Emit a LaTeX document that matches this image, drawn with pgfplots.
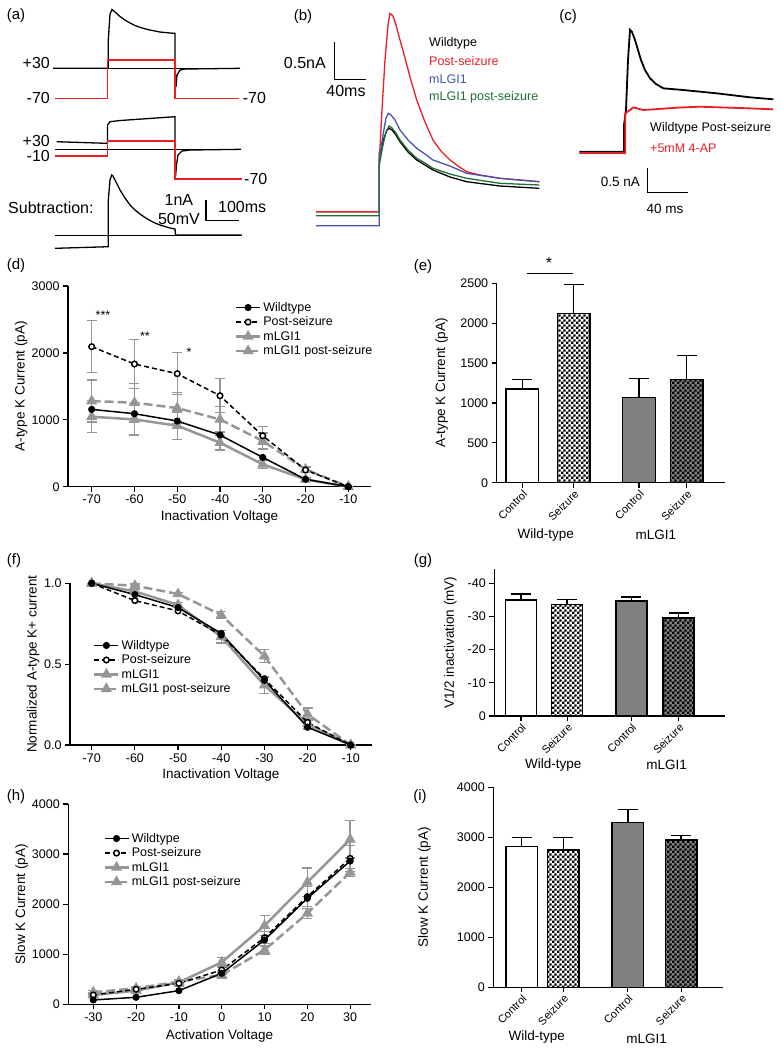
\documentclass[border=0pt]{standalone}
\usepackage{pgfplots}
\pgfplotsset{compat=1.18}
\usepackage{fontspec}
\setmainfont{Liberation Sans}
\usetikzlibrary{patterns}

\pgfdeclarepatternformonly{fchk}{\pgfqpoint{0pt}{0pt}}{\pgfqpoint{4.8pt}{4.8pt}}{\pgfqpoint{4.8pt}{4.8pt}}{%
  \pgfpathrectangle{\pgfqpoint{0pt}{0pt}}{\pgfqpoint{2.4pt}{2.4pt}}%
  \pgfpathrectangle{\pgfqpoint{2.4pt}{2.4pt}}{\pgfqpoint{2.4pt}{2.4pt}}%
  \pgfusepath{fill}}

\definecolor{rd}{RGB}{235,30,35}
\definecolor{bl}{RGB}{65,85,175}
\definecolor{gn}{RGB}{30,110,55}
\definecolor{gr}{RGB}{150,150,150}
\definecolor{bargr}{RGB}{128,128,128}

\newcommand{\fa}{\fontsize{16}{19}\selectfont}
\newcommand{\fl}{\fontsize{12.5}{15}\selectfont}
\newcommand{\fx}{\fontsize{13.5}{16}\selectfont}
\newcommand{\fp}{\fontsize{15}{18}\selectfont}
\newcommand{\fr}{\fontsize{11}{13}\selectfont}

\pgfplotsset{
 myax/.style={scale only axis, axis lines=left, axis line style={-, line width=1.3pt},
   tick align=outside, major tick length=5pt, tick style={line width=1.2pt, black},
   ticklabel style={font=\fl}, /pgf/number format/assume math mode=true,
   /pgf/number format/1000 sep={}, label style={font=\fx}, clip=false},
 leg/.style={legend cell align=left,
   legend style={draw=none, fill=none, anchor=north west, font=\fl, inner sep=0pt, row sep=0pt},
   legend image code/.code={\draw[mark repeat=2, mark phase=2, ##1] plot coordinates {(0pt,0pt) (12pt,0pt) (24pt,0pt)};}},
 barax/.style={myax, xmin=0, x tick label style={rotate=45, anchor=north east, font=\fr, inner sep=1pt}},
 wt/.style={black, line width=1.5pt, mark=*, mark size=2.8pt},
 ps/.style={black, line width=1.5pt, dash pattern=on 5pt off 3pt, mark=*, mark size=2.8pt, mark options={solid, fill=white}},
 ml/.style={gr, line width=2.5pt, mark=triangle*, mark size=4pt},
 mp/.style={gr, line width=2.5pt, dash pattern=on 9pt off 4pt, mark=triangle*, mark size=4pt, mark options={solid}},
 eb/.style={error bars/.cd, y dir=both, y explicit, error mark=|, error bar style={solid, line width=1.4pt, gr}, error mark options={solid, line width=1.4pt, mark size=5pt, gr}},
 beb/.style={error bars/.cd, y dir=plus, y explicit, error mark=|, error bar style={line width=1.5pt, black}, error mark options={line width=1.5pt, mark size=10pt, black}},
 chk/.style={draw=black, line width=1.5pt, preaction={fill=#1}, pattern=fchk, pattern color=black},
}

\begin{document}
\begin{tikzpicture}
\path[use as bounding box] (0,0) rectangle (780pt,-1050pt);

% ---------- background axis in pixel coordinates (traces, texts) ----------
\begin{axis}[at={(0pt,0pt)}, anchor=north west, scale only axis, width=780pt, height=1050pt,
  xmin=0, xmax=780, ymin=0, ymax=1050, y dir=reverse, hide axis, clip=false]
% panel (a)
\addplot[black, line width=0.8pt] coordinates {(53,68.3) (240,68.3)};
\addplot[black, line width=1.3pt] coordinates {(53,68.3) (108.3,68.3) (108.3,40) (110,14) (112,9.5) (115,12) (120,16.5) (125,20) (130,23) (135,25.5) (140,27.3) (145,28.8) (150,30) (155,31) (160,32) (165,32.5) (170,33) (175,33.3) (175,68.3) (176,87) (177,75) (180,70) (185,69) (240,68.3)};
\addplot[rd, line width=1.2pt] coordinates {(55,98.3) (107.5,98.3) (107.5,60) (175,60) (175,98.3) (239.3,98.3)};
\addplot[black, line width=0.8pt] coordinates {(55,149) (241,149)};
\addplot[black, line width=1.3pt] coordinates {(56.7,141.7) (106.7,143.3) (107.5,143.3) (107.5,125) (110,121.7) (120,120.5) (175,116.7) (175,140) (175.5,176.7) (176.5,165) (178,155) (182,151) (190,150) (241,149.3)};
\addplot[rd, line width=1.2pt] coordinates {(55,156) (107.3,156) (107.3,141) (175,141) (175,179) (241.7,179)};
\addplot[black, line width=0.8pt] coordinates {(55,235) (241.7,235)};
\addplot[black, line width=1.3pt] coordinates {(55,248.3) (108.3,246.7) (108.3,200) (110,180) (111.7,175) (113,176) (115,180) (120,190) (125,198) (130,205) (135,210) (140,214) (145,217.5) (150,220.5) (155,223) (160,225) (165,226.5) (170,228) (175,229) (175.5,235) (241.7,235)};
\addplot[black, line width=1.2pt] coordinates {(206,200) (206,220.7) (239.3,220.7)};
\node[anchor=east, inner sep=0, font=\fa] at (axis cs:50,62.7) {+30};
\node[anchor=east, inner sep=0, font=\fa] at (axis cs:50,97.7) {-70};
\node[anchor=west, inner sep=0, font=\fa] at (axis cs:242.7,97.7) {-70};
\node[anchor=east, inner sep=0, font=\fa] at (axis cs:50,140.7) {+30};
\node[anchor=east, inner sep=0, font=\fa] at (axis cs:50,156) {-10};
\node[anchor=west, inner sep=0, font=\fa] at (axis cs:244,179) {-70};
\node[anchor=west, inner sep=0, font=\fa] at (axis cs:8,207.3) {Subtraction:};
\node[anchor=east, inner sep=0, font=\fa] at (axis cs:193.3,200) {1nA};
\node[anchor=east, inner sep=0, font=\fa] at (axis cs:200,218.7) {50mV};
\node[anchor=west, inner sep=0, font=\fa] at (axis cs:218,207.3) {100ms};
% panel (b)
\addplot[black, line width=1.3pt] coordinates {(316,211.7) (379.3,211.7) (379.3,153) (381,150) (384,138) (387,130) (389,128.3) (392,130) (396,135) (400,141.7) (408,152) (416.7,160) (425,165) (433,170) (450,177) (466.7,181.7) (500,186) (539.3,188.3)};
\addplot[rd, line width=1.3pt] coordinates {(316,211.7) (379.3,211.7) (379.3,160) (382,110) (385,60) (388,25) (390,13.3) (393,16) (396,25) (400,40) (405,58) (410,77) (416.7,100) (425,122) (433,140) (441,151) (450,160) (458,166) (466.7,171.7) (480,175) (500,178.3) (520,180) (539.3,181.7)};
\addplot[bl, line width=1.3pt] coordinates {(316,225.7) (379.3,225.7) (379.3,160) (383,135) (386,118) (388.3,113.3) (391,115) (395,120) (400,130) (408,140) (416.7,148.3) (425,154) (433,160) (450,166) (466.7,173.3) (500,178.3) (539.3,181.7)};
\addplot[gn, line width=1.3pt] coordinates {(316,215.7) (379.3,215.7) (379.3,165) (383,145) (386,132) (389,126) (392,128) (396,133) (400,140) (408,150) (416.7,158.3) (425,163) (433,168.3) (450,174) (466.7,178.3) (500,183.3) (539.3,185)};
\addplot[black, line width=1.2pt] coordinates {(334.3,41.7) (334.3,79.3) (365.7,79.3)};
\node[anchor=east, inner sep=0, font=\fa] at (axis cs:326,63.3) {0.5nA};
\node[inner sep=0, font=\fa] at (axis cs:346,90.7) {40ms};
\node[anchor=west, inner sep=0, font=\fl] at (axis cs:429,43.3) {Wildtype};
\node[anchor=west, inner sep=0, font=\fl, text=rd] at (axis cs:429,61.3) {Post-seizure};
\node[anchor=west, inner sep=0, font=\fl, text=bl] at (axis cs:429,78.7) {mLGI1};
\node[anchor=west, inner sep=0, font=\fl, text=gn] at (axis cs:429,97.3) {mLGI1 post-seizure};
% panel (c)
\addplot[black, line width=1.8pt] coordinates {(579.3,151.7) (624,151.7) (624,125) (626,110) (628,60) (630,30) (632,32) (635,40) (638,50) (641,60) (645,70) (650,78.3) (656,84) (663.3,88.3) (683.3,90) (716.7,93.3) (750,97.3) (773.3,99.3)};
\addplot[rd, line width=1.8pt] coordinates {(579.3,153.3) (625.3,153.3) (625.3,113.3) (630,110) (633.3,107.3) (643.3,110) (680,107.5) (700,106.7) (740,108) (773.3,109.3)};
\addplot[black, line width=1.2pt] coordinates {(647.3,168.3) (647.3,192.7) (688.3,192.7)};
\node[anchor=west, inner sep=0, font=\fl] at (axis cs:650,128.3) {Wildtype Post-seizure};
\node[anchor=west, inner sep=0, font=\fl, text=rd] at (axis cs:650,148.3) {+5mM 4-AP};
\node[anchor=east, inner sep=0, font=\fx] at (axis cs:640,181.7) {0.5 nA};
\node[inner sep=0, font=\fx] at (axis cs:665,209.3) {40 ms};
% panel labels
\node[inner sep=0, font=\fp] at (axis cs:16,16) {(a)};
\node[inner sep=0, font=\fp] at (axis cs:303,17) {(b)};
\node[inner sep=0, font=\fp] at (axis cs:568,17) {(c)};
\node[inner sep=0, font=\fp] at (axis cs:16,266) {(d)};
\node[inner sep=0, font=\fp] at (axis cs:423,267) {(e)};
\node[inner sep=0, font=\fp] at (axis cs:14,561) {(f)};
\node[inner sep=0, font=\fp] at (axis cs:423,561) {(g)};
\node[inner sep=0, font=\fp] at (axis cs:16,797) {(h)};
\node[inner sep=0, font=\fp] at (axis cs:420,797) {(i)};
% stars
\node[inner sep=0, font=\fl] at (axis cs:103,315) {***};
\node[inner sep=0, font=\fl] at (axis cs:145,336) {**};
\node[inner sep=0, font=\fl] at (axis cs:189,352) {*};
\addplot[black, line width=1.3pt] coordinates {(526.7,273.3) (573.3,273.3)};
\node[inner sep=0, font=\fa] at (axis cs:549,263) {*};
% group labels
\node[inner sep=0, font=\fx] at (axis cs:545.8,535) {Wild-type};
\node[inner sep=0, font=\fx] at (axis cs:655.8,535) {mLGI1};
\node[inner sep=0, font=\fx] at (axis cs:553.3,765) {Wild-type};
\node[inner sep=0, font=\fx] at (axis cs:666.7,765) {mLGI1};
\node[inner sep=0, font=\fx] at (axis cs:536.7,1037.3) {Wild-type};
\node[inner sep=0, font=\fx] at (axis cs:646.7,1039.3) {mLGI1};
\end{axis}

% ---------- (d) ----------
\begin{axis}[myax, leg, reverse legend, at={(68pt,-486.7pt)}, anchor=south west, width=303pt, height=200.7pt,
  xmin=-75.54, xmax=-4.69, ymin=0, ymax=3000, xtick={-70,-60,...,-10}, ytick={0,1000,2000,3000},
  xlabel={Inactivation Voltage}, ylabel={A-type K Current (pA)},
  ylabel style={at={(axis description cs:-0.155,0.5)}, anchor=center},
  xlabel style={at={(axis description cs:0.5,0)}, anchor=center, yshift=-30pt},
  legend style={at={(0.55,0.93)}}]
\addplot[mp, eb] coordinates {(-70,1281) +- (0,313) (-60,1256) +- (0,290) (-50,1176) +- (0,230) (-40,1006) +- (0,190) (-30,683) +- (0,120) (-20,259) +- (0,40) (-10,0) +- (0,0)};
\addlegendentry{mLGI1 post-seizure}
\addplot[ml, eb] coordinates {(-70,1046) +- (0,240) (-60,1006) +- (0,234) (-50,912) +- (0,204) (-40,658) +- (0,110) (-30,334) +- (0,60) (-20,110) +- (0,20) (-10,0) +- (0,0)};
\addlegendentry{mLGI1}
\addplot[ps, eb] coordinates {(-70,2093) +- (0,390) (-60,1834) +- (0,368) (-50,1689) +- (0,314) (-40,1360) +- (0,254) (-30,762) +- (0,135) (-20,250) +- (0,40) (-10,0) +- (0,0)};
\addlegendentry{Post-seizure}
\addplot[wt] coordinates {(-70,1156) (-60,1091) (-50,982) (-40,772) (-30,438) (-20,110) (-10,0)};
\addlegendentry{Wildtype}
\end{axis}

% ---------- (e) ----------
\begin{axis}[barax, at={(496.7pt,-482.7pt)}, anchor=south west, width=228.3pt, height=199.4pt,
  xmax=228.3, ymin=0, ymax=2500, ytick={0,500,...,2500},
  xtick={25.6,77,142.3,190}, xticklabels={Control,Seizure,Control,Seizure},
  ylabel={A-type K Current (pA)},
  ylabel style={at={(axis description cs:-0.241,0.5)}, anchor=center}]
\addplot[ybar, bar width=32.7pt, bar shift=0pt, draw=black, line width=1.5pt, fill=white, beb] coordinates {(25.6,1175) +- (0,121)};
\addplot[ybar, bar width=32.7pt, bar shift=0pt, chk=white, beb] coordinates {(77,2124) +- (0,364)};
\addplot[ybar, bar width=32.7pt, bar shift=0pt, draw=black, line width=1.5pt, fill=bargr, beb] coordinates {(142.3,1070) +- (0,234)};
\addplot[ybar, bar width=32.7pt, bar shift=0pt, chk=bargr, beb] coordinates {(190,1296) +- (0,297)};
\end{axis}

% ---------- (f) ----------
\begin{axis}[myax, leg, reverse legend, at={(70pt,-745pt)}, anchor=south west, width=301.7pt, height=161.7pt,
  xmin=-75.03, xmax=-5.14, ymin=0, ymax=1, xtick={-70,-60,...,-10}, ytick={0,0.5,1}, yticklabels={0.0,0.5,1.0},
  xlabel={Inactivation Voltage}, ylabel={Normalized A-type K+ current},
  ylabel style={at={(axis description cs:-0.1226,0.5)}, anchor=center},
  xlabel style={at={(axis description cs:0.5,0)}, anchor=center, yshift=-30pt},
  legend style={at={(0.076,0.662)}}]
\addplot[mp, eb] coordinates {(-70,1) +- (0,0) (-60,0.985) +- (0,0.01) (-50,0.934) +- (0,0.01) (-40,0.804) +- (0,0.02) (-30,0.55) +- (0,0.04) (-20,0.19) +- (0,0.04) (-10,0) +- (0,0)};
\addlegendentry{mLGI1 post-seizure}
\addplot[ml, eb] coordinates {(-70,1) +- (0,0) (-60,0.95) +- (0,0.01) (-50,0.866) +- (0,0.015) (-40,0.67) +- (0,0.04) (-30,0.37) +- (0,0.05) (-20,0.13) +- (0,0.03) (-10,0) +- (0,0)};
\addlegendentry{mLGI1}
\addplot[ps] coordinates {(-70,1) (-60,0.893) (-50,0.829) (-40,0.68) (-30,0.41) (-20,0.14) (-10,0)};
\addlegendentry{Post-seizure}
\addplot[wt] coordinates {(-70,1) (-60,0.93) (-50,0.85) (-40,0.69) (-30,0.40) (-20,0.11) (-10,0)};
\addlegendentry{Wildtype}
\end{axis}

% ---------- (g) ----------
\begin{axis}[barax, at={(494.3pt,-716pt)}, anchor=south west, width=230.7pt, height=146.7pt,
  xmax=230.7, ymin=0, ymax=44.2, ytick={0,10,20,30,40}, yticklabels={0,-10,-20,-30,-40},
  xtick={26.7,72.9,137,184.4}, xticklabels={Control,Seizure,Control,Seizure},
  ylabel={V1/2 inactivation (mV)},
  ylabel style={at={(axis description cs:-0.1907,0.5)}, anchor=center}]
\addplot[ybar, bar width=31pt, bar shift=0pt, draw=black, line width=1.5pt, fill=white, beb] coordinates {(26.7,34.9) +- (0,1.8)};
\addplot[ybar, bar width=31pt, bar shift=0pt, chk=white, beb] coordinates {(72.9,33.6) +- (0,1.5)};
\addplot[ybar, bar width=31pt, bar shift=0pt, draw=black, line width=1.5pt, fill=bargr, beb] coordinates {(137,34.7) +- (0,1.2)};
\addplot[ybar, bar width=31pt, bar shift=0pt, chk=bargr, beb] coordinates {(184.4,29.6) +- (0,1.4)};
\end{axis}

% ---------- (h) ----------
\begin{axis}[myax, leg, reverse legend, at={(68.3pt,-1004.3pt)}, anchor=south west, width=302.4pt, height=200.3pt,
  xmin=-35.84, xmax=34.8, ymin=0, ymax=4000, xtick={-30,-20,...,30}, ytick={0,1000,...,4000},
  xlabel={Activation Voltage}, ylabel={Slow K Current (pA)},
  ylabel style={at={(axis description cs:-0.1541,0.5)}, anchor=center},
  xlabel style={at={(axis description cs:0.5,0)}, anchor=center, yshift=-32pt},
  legend style={at={(0.115,0.865)}}]
\addplot[mp, eb] coordinates {(-30,240) +- (0,30) (-20,320) +- (0,30) (-10,453) +- (0,40) (0,586) +- (0,60) (10,1085) +- (0,80) (20,1817) +- (0,100) (30,2636) +- (0,80)};
\addlegendentry{mLGI1 post-seizure}
\addplot[ml, eb] coordinates {(-30,186) +- (0,40) (-20,273) +- (0,40) (-10,439) +- (0,50) (0,839) +- (0,93) (10,1571) +- (0,200) (20,2436) +- (0,286) (30,3295) +- (0,372)};
\addlegendentry{mLGI1}
\addplot[ps, eb] coordinates {(-30,186) +- (0,30) (-20,300) +- (0,40) (-10,419) +- (0,50) (0,686) +- (0,80) (10,1331) +- (0,120) (20,2150) +- (0,200) (30,2915) +- (0,260)};
\addlegendentry{Post-seizure}
\addplot[wt] coordinates {(-30,87) (-20,140) (-10,273) (0,619) (10,1285) (20,2117) (30,2862)};
\addlegendentry{Wildtype}
\end{axis}

% ---------- (i) ----------
\begin{axis}[barax, at={(493.3pt,-987.3pt)}, anchor=south west, width=229.4pt, height=200pt,
  xmax=229.4, ymin=0, ymax=4000, ytick={0,1000,...,4000},
  xtick={28.4,70,134.5,187.9}, xticklabels={Control,Seizure,Control,Seizure},
  ylabel={Slow K Current (pA)},
  ylabel style={at={(axis description cs:-0.3008,0.5)}, anchor=center}]
\addplot[ybar, bar width=31.3pt, bar shift=0pt, draw=black, line width=1.5pt, fill=white, beb] coordinates {(28.4,2813) +- (0,187)};
\addplot[ybar, bar width=31.3pt, bar shift=0pt, chk=white, beb] coordinates {(70,2747) +- (0,246)};
\addplot[ybar, bar width=31.3pt, bar shift=0pt, draw=black, line width=1.5pt, fill=bargr, beb] coordinates {(134.5,3293) +- (0,267)};
\addplot[ybar, bar width=31.3pt, bar shift=0pt, chk=bargr, beb] coordinates {(187.9,2947) +- (0,86)};
\end{axis}
\end{tikzpicture}
\end{document}
